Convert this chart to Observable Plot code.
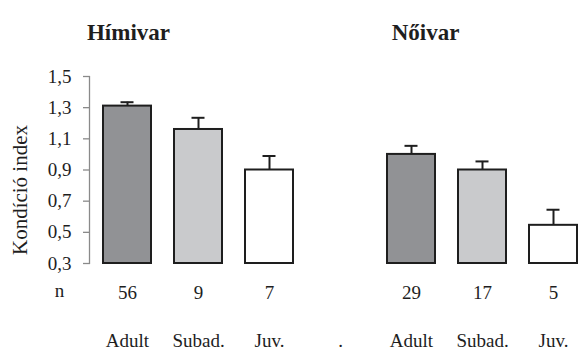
<!DOCTYPE html>
<html>
<head>
<meta charset="utf-8">
<script src="https://cdn.jsdelivr.net/npm/d3@7"></script>
<script src="https://cdn.jsdelivr.net/npm/@observablehq/plot@0.6"></script>
<style>
  body { margin: 0; padding: 0; background: #fff; }
</style>
</head>
<body>
<div id="chart"></div>
<script>
// Condition index by sex and age class (mean + SE, sample sizes)
const groups = ["Hímivar", "Nőivar"];
const ageClasses = ["Adult", "Subad.", "Juv."];
const maleMeans = [1.31, 1.16, 0.90];
const maleSE = [0.025, 0.075, 0.09];
const maleN = [56, 9, 7];
const femaleMeans = [1.00, 0.90, 0.545];
const femaleSE = [0.055, 0.055, 0.10];
const femaleN = [29, 17, 5];
const yTicks = [0.3, 0.5, 0.7, 0.9, 1.1, 1.3, 1.5];
const gapLabel = ".";
const yLabel = "Kondíció index";
const nLabel = "n";

// one row per bar; keys keep the two sexes apart on the band scale
const rows = [
  ...ageClasses.map((a, i) => ({key: `M-${a}`, group: groups[0], age: a, mean: maleMeans[i], se: maleSE[i], n: maleN[i]})),
  ...ageClasses.map((a, i) => ({key: `F-${a}`, group: groups[1], age: a, mean: femaleMeans[i], se: femaleSE[i], n: femaleN[i]}))
];
const domainKeys = [...rows.slice(0, 3).map(d => d.key), "gap", ...rows.slice(3).map(d => d.key)];
const keyLabel = new Map([...rows.map(d => [d.key, d.age]), ["gap", gapLabel]]);
const baseline = yTicks[0];

// group titles sit above the adult bar of each sex
const titles = groups.map((g, i) => ({key: rows[i * 3].key, label: g}));

const ink = "#1e1e1e";
const face = "'Liberation Serif', 'Times New Roman', Tinos, serif";
const txt = {fontFamily: face, fontSize: 19, fill: ink};

const chart = Plot.plot({
  width: 579,
  height: 352,
  marginTop: 76,
  marginBottom: 89,
  marginLeft: 89,
  marginRight: 2,
  style: `font-family: ${face}; background: #fff;`,
  x: {type: "band", domain: domainKeys, paddingInner: 0.327, paddingOuter: 0.084, align: 1, axis: null},
  y: {domain: [yTicks[0], yTicks[yTicks.length - 1]], axis: null},
  color: {domain: ageClasses, range: ["#919295", "#c9cacc", "#ffffff"]},
  marks: [
    Plot.frame({anchor: "left", stroke: "#8a8a8a", strokeWidth: 1.3}),
    Plot.axisY({ticks: yTicks, tickSize: 6, tickPadding: 12, stroke: "#8a8a8a", strokeWidth: 1.3,
      tickFormat: d => d.toFixed(1).replace(".", ","), label: null, ...txt}),
    Plot.axisX({tickSize: 0, tickPadding: 70, tickFormat: k => keyLabel.get(k), label: null, ...txt}),
    Plot.ruleX(rows, {x: "key", y1: "mean", y2: d => d.mean + d.se, stroke: ink, strokeWidth: 2}),
    Plot.tickY(rows, {x: "key", y: d => d.mean + d.se, stroke: ink, strokeWidth: 2, insetLeft: 17.5, insetRight: 17.5}),
    Plot.barY(rows, {x: "key", y1: baseline, y2: "mean", fill: "age", stroke: ink, strokeWidth: 2}),
    Plot.text(rows, {x: "key", text: d => String(d.n), frameAnchor: "bottom", dy: 35, ...txt}),
    Plot.text([nLabel], {text: d => d, frameAnchor: "bottom-left", textAnchor: "middle", dx: -30, dy: 33, ...txt}),
    Plot.text([yLabel], {text: d => d, frameAnchor: "left", textAnchor: "middle", rotate: -90, dx: -69, dy: 20, ...txt, fontSize: 21}),
    Plot.text(titles.slice(0, 1), {x: "key", text: "label", frameAnchor: "top", dy: -53, dx: 1, ...txt, fontSize: 23, fontWeight: "bold"}),
    Plot.text(titles.slice(1), {x: "key", text: "label", frameAnchor: "top", dy: -53, dx: 14, ...txt, fontSize: 23, fontWeight: "bold"})
  ]
});
// pin the serif face on every label, overriding any inherited font rule
chart.querySelectorAll("text, tspan").forEach(el => el.style.setProperty("font-family", face, "important"));
document.getElementById("chart").append(chart);
</script>
</body>
</html>
